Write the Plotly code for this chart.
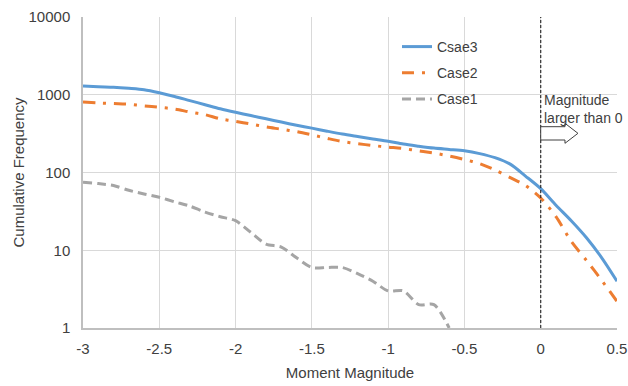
import plotly.graph_objects as go

magnitude = [round(-3.0 + 0.1 * i, 1) for i in range(36)]

csae3 = [1300, 1270, 1250, 1210, 1160, 1060, 950, 840, 745, 660,
         595, 540, 490, 445, 405, 372, 340, 312, 290, 270,
         252, 232, 218, 206, 198, 190, 175, 155, 128, 90,
         62, 38, 24, 14.5, 8, 4]

case2 = [805, 785, 770, 755, 720, 690, 655, 600, 555, 490,
         455, 420, 385, 360, 335, 305, 275, 250, 235, 222,
         212, 203, 190, 178, 163, 147, 130, 108, 86, 68,
         47, 27, 13, 7.4, 4.1, 2.2]

case1_x = magnitude[:25]
case1 = [75, 72, 68, 59, 53, 48, 42, 37, 31, 27,
         24, 17, 12, 11, 8, 6, 6, 6, 5, 4,
         3, 3, 2, 2, 1]

x_ticks = [-3, -2.5, -2, -1.5, -1, -0.5, 0, 0.5]
x_tick_labels = ["-3", "-2.5", "-2", "-1.5", "-1", "-0.5", "0", "0.5"]
y_ticks = [1, 10, 100, 1000, 10000]
y_tick_labels = ["1", "10", "100", "1000", "10000"]

FONT = "Liberation Sans, Arial, sans-serif"
TXT = "#404040"

fig = go.Figure()
fig.add_trace(go.Scatter(x=magnitude, y=csae3, name="Csae3", mode="lines",
                         legendgroup="a",
                         line=dict(color="#5b9bd5", width=3, shape="spline", smoothing=0.8)))
fig.add_trace(go.Scatter(x=magnitude, y=case2, name="Case2", mode="lines",
                         legendgroup="b",
                         line=dict(color="#ed7d31", width=3, shape="spline", smoothing=0.8,
                                   dash="12px,8px,3px,8px")))
fig.add_trace(go.Scatter(x=case1_x, y=case1, name="Case1", mode="lines",
                         legendgroup="c",
                         line=dict(color="#a5a5a5", width=3, shape="spline", smoothing=0.8,
                                   dash="9px,5px")))

# vertical dashed line at magnitude 0
fig.add_shape(type="line", xref="x", yref="paper", x0=0, x1=0, y0=0, y1=1,
              line=dict(color="#303030", width=1.2, dash="3px,2px"))

# hollow block arrow
fig.add_shape(type="path", xref="x", yref="paper",
              path="M 0,0.6473 L 0.159,0.6473 L 0.159,0.6582 L 0.244,0.626 "
                   "L 0.159,0.5939 L 0.159,0.6045 L 0,0.6045 Z",
              line=dict(color="#404040", width=1), fillcolor="white")

fig.add_annotation(x=0, xref="x", y=0.703, yref="paper", xanchor="left", yanchor="middle",
                   xshift=1, showarrow=False, align="left",
                   text="Magnitude<br>larger than 0",
                   font=dict(family=FONT, size=14, color=TXT))

fig.update_layout(
    width=628, height=386,
    margin=dict(l=83, r=11, t=17, b=58, autoexpand=False),
    paper_bgcolor="white", plot_bgcolor="white",
    font=dict(family=FONT, size=15, color=TXT),
    showlegend=True,
    legend=dict(x=0.588, y=0.955, xanchor="left", yanchor="top",
                bgcolor="rgba(0,0,0,0)", font=dict(size=14, color=TXT),
                tracegroupgap=5),
)
fig.update_xaxes(range=[-3, 0.5], tickvals=x_ticks, ticktext=x_tick_labels,
                 automargin=False,
                 showgrid=True, gridcolor="#d9d9d9", gridwidth=1,
                 showline=True, linecolor="#bfbfbf", linewidth=1.5,
                 zeroline=False, ticks="outside", ticklen=6, tickcolor="rgba(0,0,0,0)",
                 tickfont=dict(size=15, color=TXT),
                 title=dict(text="Moment Magnitude", font=dict(size=15, color=TXT), standoff=12))
fig.update_yaxes(type="log", range=[0, 4], tickvals=y_ticks, ticktext=y_tick_labels,
                 automargin=False,
                 showgrid=True, gridcolor="#d9d9d9", gridwidth=1,
                 showline=True, linecolor="#bfbfbf", linewidth=1.5,
                 zeroline=False, ticks="outside", ticklen=8, tickcolor="rgba(0,0,0,0)",
                 tickfont=dict(size=15, color=TXT),
                 title=dict(text="Cumulative Frequency", font=dict(size=15, color=TXT), standoff=0))

fig.write_html("out.html")
